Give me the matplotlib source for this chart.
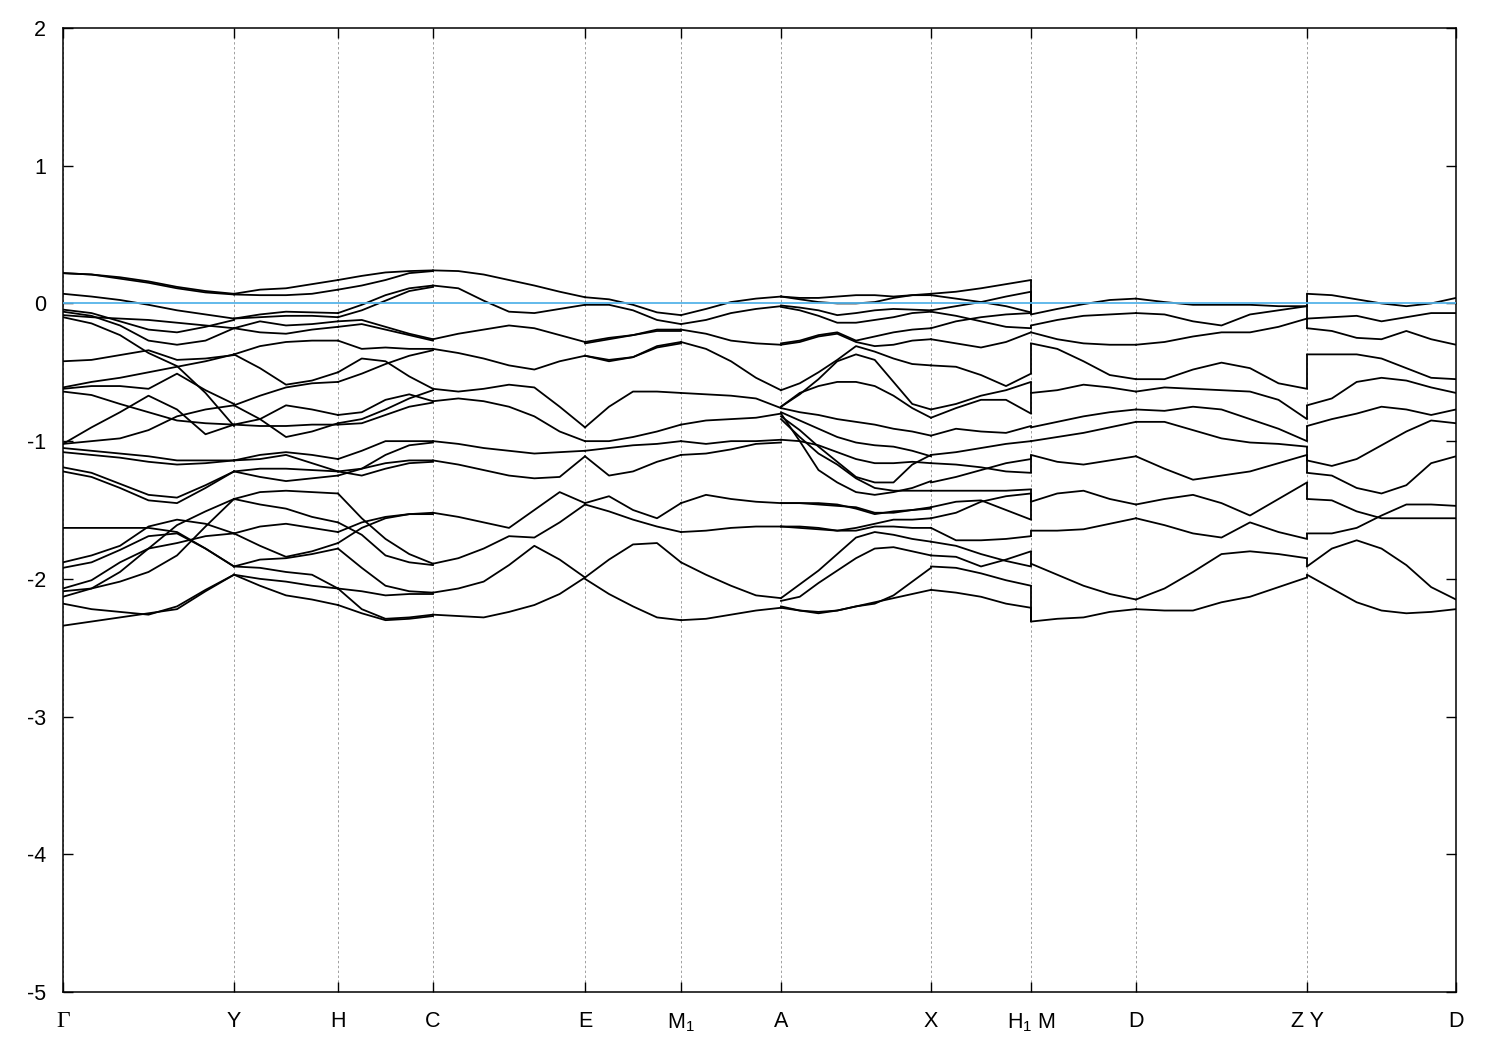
import matplotlib
matplotlib.use('Agg')
import matplotlib.pyplot as plt
import numpy as np

plt.rcParams['font.family'] = ['Liberation Sans', 'DejaVu Sans']
plt.rcParams['mathtext.fontset'] = 'custom'
plt.rcParams['mathtext.rm'] = 'Liberation Sans'
plt.rcParams['mathtext.default'] = 'regular'
plt.rcParams['axes.unicode_minus'] = False

# --- k-path ---
kpoint_labels = ['Γ', 'Y', 'H', 'C', 'E', 'M$_1$', 'A', 'X', 'H$_1$ M', 'D', 'Z Y', 'D']
kpoint_pos = [0.0, 1.71, 2.75, 3.70, 5.22, 6.18, 7.18, 8.68, 9.68, 10.73, 12.44, 13.93]

# --- band energies (eV), each line sampled at equally spaced points of its segment ---
gamma_y = [
    [0.22, 0.21, 0.19, 0.16, 0.12, 0.09, 0.07],
    [0.22, 0.21, 0.18, 0.15, 0.11, 0.08, 0.065],
    [0.07, 0.05, 0.025, -0.01, -0.05, -0.08, -0.11],
    [-0.085, -0.10, -0.11, -0.12, -0.14, -0.16, -0.18],
    [-0.045, -0.07, -0.13, -0.19, -0.21, -0.17, -0.12],
    [-0.06, -0.09, -0.16, -0.27, -0.30, -0.27, -0.18],
    [-0.10, -0.145, -0.23, -0.36, -0.455, -0.65, -0.89],
    [-0.42, -0.41, -0.375, -0.34, -0.41, -0.40, -0.375],
    [-0.61, -0.57, -0.54, -0.50, -0.46, -0.42, -0.37],
    [-0.62, -0.60, -0.60, -0.62, -0.51, -0.63, -0.73],
    [-0.64, -0.665, -0.73, -0.79, -0.85, -0.87, -0.88],
    [-1.02, -0.90, -0.79, -0.67, -0.77, -0.95, -0.88],
    [-1.02, -1.00, -0.98, -0.92, -0.82, -0.77, -0.74],
    [-1.05, -1.07, -1.09, -1.11, -1.14, -1.14, -1.14],
    [-1.08, -1.10, -1.12, -1.15, -1.17, -1.16, -1.14],
    [-1.19, -1.23, -1.31, -1.39, -1.41, -1.32, -1.22],
    [-1.22, -1.26, -1.34, -1.43, -1.45, -1.34, -1.22],
    [-1.63, -1.63, -1.63, -1.63, -1.66, -1.78, -1.91],
    [-1.88, -1.83, -1.76, -1.62, -1.57, -1.60, -1.67],
    [-1.92, -1.88, -1.79, -1.69, -1.67, -1.78, -1.91],
    [-2.07, -2.01, -1.88, -1.78, -1.74, -1.69, -1.67],
    [-2.09, -2.07, -2.02, -1.95, -1.83, -1.62, -1.42],
    [-2.18, -2.22, -2.24, -2.26, -2.20, -2.08, -1.97],
    [-2.13, -2.07, -1.95, -1.78, -1.61, -1.51, -1.42],
    [-2.34, -2.31, -2.28, -2.25, -2.22, -2.09, -1.97],
]

y_h = [
    [0.07, 0.10, 0.11, 0.14, 0.17],
    [0.065, 0.06, 0.06, 0.07, 0.10],
    [-0.11, -0.08, -0.06, -0.065, -0.07],
    [-0.11, -0.10, -0.09, -0.09, -0.10],
    [-0.18, -0.13, -0.16, -0.15, -0.13],
    [-0.18, -0.21, -0.22, -0.19, -0.17],
    [-0.37, -0.31, -0.28, -0.27, -0.27],
    [-0.37, -0.47, -0.59, -0.56, -0.50],
    [-0.74, -0.67, -0.61, -0.58, -0.57],
    [-0.74, -0.84, -0.97, -0.93, -0.87],
    [-0.88, -0.84, -0.74, -0.77, -0.81],
    [-0.88, -0.89, -0.89, -0.88, -0.88],
    [-1.14, -1.10, -1.08, -1.10, -1.13],
    [-1.14, -1.13, -1.10, -1.16, -1.22],
    [-1.22, -1.20, -1.20, -1.21, -1.22],
    [-1.22, -1.26, -1.29, -1.27, -1.25],
    [-1.42, -1.37, -1.36, -1.37, -1.38],
    [-1.42, -1.46, -1.49, -1.55, -1.59],
    [-1.67, -1.62, -1.60, -1.63, -1.66],
    [-1.67, -1.76, -1.84, -1.80, -1.74],
    [-1.91, -1.86, -1.85, -1.82, -1.78],
    [-1.91, -1.92, -1.95, -1.97, -2.07],
    [-1.97, -2.00, -2.02, -2.05, -2.07],
    [-1.97, -2.05, -2.12, -2.15, -2.19],
]

h_c = [
    [0.17, 0.20, 0.225, 0.235, 0.24],
    [0.10, 0.13, 0.17, 0.22, 0.235],
    [-0.07, -0.01, 0.06, 0.11, 0.13],
    [-0.10, -0.05, 0.02, 0.09, 0.12],
    [-0.13, -0.12, -0.17, -0.22, -0.26],
    [-0.17, -0.15, -0.19, -0.23, -0.27],
    [-0.27, -0.33, -0.32, -0.33, -0.33],
    [-0.50, -0.40, -0.42, -0.53, -0.62],
    [-0.57, -0.51, -0.44, -0.38, -0.34],
    [-0.81, -0.79, -0.70, -0.66, -0.71],
    [-0.87, -0.84, -0.77, -0.69, -0.63],
    [-0.88, -0.87, -0.81, -0.75, -0.72],
    [-1.13, -1.07, -1.00, -1.00, -1.00],
    [-1.22, -1.20, -1.16, -1.14, -1.14],
    [-1.22, -1.25, -1.20, -1.16, -1.15],
    [-1.25, -1.20, -1.10, -1.03, -1.01],
    [-1.38, -1.56, -1.71, -1.82, -1.89],
    [-1.59, -1.68, -1.83, -1.88, -1.90],
    [-1.66, -1.59, -1.55, -1.53, -1.52],
    [-1.74, -1.63, -1.56, -1.53, -1.53],
    [-1.78, -1.92, -2.05, -2.09, -2.10],
    [-2.07, -2.09, -2.12, -2.11, -2.11],
    [-2.07, -2.22, -2.29, -2.28, -2.26],
    [-2.19, -2.25, -2.30, -2.29, -2.27],
]

c_e = [
    [0.24, 0.235, 0.21, 0.17, 0.13, 0.085, 0.045],
    [0.13, 0.11, 0.02, -0.06, -0.07, -0.04, -0.01],
    [-0.26, -0.22, -0.19, -0.16, -0.18, -0.23, -0.28],
    [-0.33, -0.36, -0.40, -0.45, -0.48, -0.42, -0.38],
    [-0.62, -0.64, -0.62, -0.59, -0.61, -0.75, -0.90],
    [-0.71, -0.69, -0.71, -0.75, -0.82, -0.93, -1.00],
    [-1.00, -1.02, -1.05, -1.07, -1.09, -1.08, -1.07],
    [-1.14, -1.17, -1.21, -1.25, -1.27, -1.26, -1.11],
    [-1.52, -1.55, -1.59, -1.63, -1.50, -1.37, -1.45],
    [-1.89, -1.85, -1.78, -1.69, -1.70, -1.59, -1.46],
    [-2.10, -2.07, -2.02, -1.90, -1.76, -1.86, -1.99],
    [-2.26, -2.27, -2.28, -2.24, -2.19, -2.11, -1.99],
]

e_m1 = [
    [0.045, 0.03, -0.01, -0.065, -0.085],
    [-0.01, -0.01, -0.05, -0.12, -0.15],
    [-0.28, -0.25, -0.23, -0.19, -0.19],
    [-0.29, -0.26, -0.23, -0.20, -0.20],
    [-0.38, -0.41, -0.39, -0.31, -0.28],
    [-0.38, -0.42, -0.39, -0.32, -0.29],
    [-0.90, -0.75, -0.64, -0.64, -0.65],
    [-1.00, -1.00, -0.97, -0.93, -0.88],
    [-1.07, -1.05, -1.03, -1.02, -1.00],
    [-1.11, -1.25, -1.22, -1.15, -1.10],
    [-1.45, -1.40, -1.50, -1.56, -1.45],
    [-1.46, -1.51, -1.57, -1.62, -1.66],
    [-1.99, -1.86, -1.75, -1.74, -1.88],
    [-2.00, -2.11, -2.20, -2.28, -2.30],
]

m1_a = [
    [-0.085, -0.04, 0.01, 0.035, 0.05],
    [-0.15, -0.12, -0.07, -0.04, -0.02],
    [-0.19, -0.22, -0.27, -0.29, -0.30],
    [-0.28, -0.33, -0.42, -0.54, -0.63],
    [-0.65, -0.66, -0.67, -0.69, -0.76],
    [-0.88, -0.85, -0.84, -0.83, -0.80],
    [-1.00, -1.02, -1.00, -1.00, -0.99],
    [-1.10, -1.09, -1.06, -1.02, -1.01],
    [-1.45, -1.39, -1.42, -1.44, -1.45],
    [-1.66, -1.65, -1.63, -1.62, -1.62],
    [-1.88, -1.97, -2.05, -2.12, -2.14],
    [-2.30, -2.29, -2.26, -2.23, -2.21],
]

a_x = [
    [0.05, 0.04, 0.04, 0.05, 0.06, 0.06, 0.05, 0.06, 0.07],
    [0.05, 0.03, 0.01, 0.00, 0.00, 0.01, 0.04, 0.06, 0.06],
    [-0.015, -0.03, -0.05, -0.085, -0.07, -0.05, -0.04, -0.045, -0.05],
    [-0.025, -0.05, -0.09, -0.14, -0.14, -0.12, -0.10, -0.07, -0.06],
    [-0.29, -0.27, -0.23, -0.21, -0.27, -0.24, -0.21, -0.19, -0.18],
    [-0.30, -0.28, -0.24, -0.22, -0.28, -0.31, -0.30, -0.27, -0.26],
    [-0.63, -0.58, -0.50, -0.41, -0.31, -0.35, -0.40, -0.44, -0.45],
    [-0.75, -0.66, -0.55, -0.42, -0.37, -0.41, -0.57, -0.73, -0.77],
    [-0.75, -0.65, -0.60, -0.57, -0.57, -0.60, -0.67, -0.76, -0.83],
    [-0.76, -0.79, -0.81, -0.84, -0.86, -0.88, -0.91, -0.93, -0.96],
    [-0.79, -0.85, -0.91, -0.97, -1.01, -1.03, -1.04, -1.07, -1.11],
    [-0.99, -1.00, -1.03, -1.08, -1.13, -1.16, -1.16, -1.15, -1.16],
    [-0.80, -1.00, -1.21, -1.30, -1.37, -1.39, -1.37, -1.34, -1.29],
    [-0.82, -0.92, -1.04, -1.15, -1.26, -1.30, -1.30, -1.17, -1.10],
    [-0.84, -0.97, -1.09, -1.17, -1.27, -1.34, -1.36, -1.36, -1.36],
    [-1.45, -1.45, -1.45, -1.46, -1.49, -1.53, -1.51, -1.50, -1.48],
    [-1.45, -1.45, -1.46, -1.47, -1.48, -1.52, -1.52, -1.50, -1.49],
    [-1.62, -1.62, -1.63, -1.65, -1.63, -1.60, -1.57, -1.57, -1.56],
    [-1.62, -1.63, -1.64, -1.65, -1.65, -1.62, -1.62, -1.63, -1.63],
    [-2.14, -2.04, -1.94, -1.82, -1.70, -1.66, -1.68, -1.71, -1.73],
    [-2.16, -2.13, -2.03, -1.94, -1.85, -1.78, -1.77, -1.80, -1.83],
    [-2.20, -2.23, -2.24, -2.23, -2.20, -2.18, -2.12, -2.02, -1.92],
    [-2.21, -2.23, -2.25, -2.23, -2.20, -2.17, -2.14, -2.11, -2.08],
]

x_h1 = [
    [0.07, 0.085, 0.11, 0.14, 0.17],
    [0.06, 0.035, 0.01, 0.05, 0.085],
    [-0.05, -0.02, 0.01, -0.02, -0.065],
    [-0.06, -0.09, -0.13, -0.17, -0.18],
    [-0.18, -0.13, -0.10, -0.08, -0.07],
    [-0.26, -0.29, -0.32, -0.28, -0.21],
    [-0.45, -0.46, -0.52, -0.60, -0.51],
    [-0.77, -0.73, -0.67, -0.63, -0.57],
    [-0.83, -0.76, -0.70, -0.70, -0.80],
    [-0.96, -0.91, -0.93, -0.94, -0.89],
    [-1.10, -1.08, -1.05, -1.02, -1.00],
    [-1.16, -1.17, -1.19, -1.22, -1.23],
    [-1.30, -1.26, -1.21, -1.16, -1.13],
    [-1.36, -1.36, -1.36, -1.36, -1.35],
    [-1.48, -1.44, -1.43, -1.50, -1.57],
    [-1.56, -1.52, -1.44, -1.40, -1.38],
    [-1.63, -1.72, -1.72, -1.71, -1.69],
    [-1.73, -1.76, -1.82, -1.87, -1.91],
    [-1.83, -1.84, -1.91, -1.86, -1.80],
    [-1.91, -1.92, -1.96, -2.01, -2.05],
    [-2.08, -2.10, -2.13, -2.18, -2.21],
]

m_d = [
    [-0.08, -0.04, -0.005, 0.025, 0.035],
    [-0.16, -0.12, -0.09, -0.08, -0.07],
    [-0.21, -0.26, -0.29, -0.30, -0.30],
    [-0.29, -0.33, -0.42, -0.52, -0.55],
    [-0.65, -0.63, -0.59, -0.61, -0.64],
    [-0.90, -0.86, -0.82, -0.79, -0.77],
    [-1.00, -0.97, -0.94, -0.90, -0.86],
    [-1.10, -1.15, -1.17, -1.14, -1.11],
    [-1.44, -1.38, -1.36, -1.42, -1.46],
    [-1.65, -1.65, -1.64, -1.60, -1.56],
    [-1.89, -1.97, -2.05, -2.11, -2.15],
    [-2.31, -2.29, -2.28, -2.24, -2.22],
]
# number of (nearly) degenerate bands behind each M-D line
m_d_bands = [4, 1, 1, 1, 2, 1, 1, 2, 3, 1, 2, 2]

d_z = [
    [0.035, 0.01, -0.01, -0.01, -0.01, -0.02, -0.02],
    [-0.07, -0.08, -0.13, -0.16, -0.08, -0.05, -0.02],
    [-0.30, -0.28, -0.24, -0.21, -0.21, -0.17, -0.11],
    [-0.55, -0.55, -0.48, -0.43, -0.47, -0.58, -0.62],
    [-0.64, -0.61, -0.62, -0.63, -0.64, -0.70, -0.84],
    [-0.77, -0.78, -0.75, -0.77, -0.84, -0.91, -1.00],
    [-0.86, -0.86, -0.92, -0.98, -1.01, -1.02, -1.04],
    [-1.11, -1.20, -1.28, -1.25, -1.22, -1.16, -1.10],
    [-1.46, -1.42, -1.39, -1.45, -1.54, -1.42, -1.30],
    [-1.56, -1.61, -1.67, -1.70, -1.59, -1.66, -1.71],
    [-2.15, -2.07, -1.95, -1.82, -1.80, -1.82, -1.85],
    [-2.22, -2.23, -2.23, -2.17, -2.13, -2.06, -1.99],
]

y_d = [
    [0.07, 0.06, 0.03, 0.00, -0.02, 0.00, 0.04],
    [-0.11, -0.10, -0.09, -0.13, -0.10, -0.07, -0.07],
    [-0.18, -0.20, -0.25, -0.26, -0.20, -0.26, -0.30],
    [-0.37, -0.37, -0.37, -0.40, -0.47, -0.54, -0.55],
    [-0.74, -0.69, -0.57, -0.54, -0.56, -0.61, -0.65],
    [-0.89, -0.84, -0.80, -0.75, -0.77, -0.81, -0.77],
    [-1.14, -1.18, -1.13, -1.03, -0.93, -0.85, -0.87],
    [-1.23, -1.25, -1.34, -1.38, -1.32, -1.16, -1.11],
    [-1.42, -1.43, -1.51, -1.56, -1.56, -1.56, -1.56],
    [-1.67, -1.67, -1.63, -1.54, -1.46, -1.46, -1.47],
    [-1.91, -1.78, -1.72, -1.78, -1.90, -2.06, -2.15],
    [-1.97, -2.07, -2.17, -2.23, -2.25, -2.24, -2.22],
]

segments = [gamma_y, y_h, h_c, c_e, e_m1, m1_a, a_x, x_h1, m_d, d_z, y_d]

fig = plt.figure(figsize=(15, 10.5), dpi=100)
ax = fig.add_axes([63 / 1500, 1 - 992 / 1050, (1456 - 63) / 1500, (992 - 28) / 1050])

lw = 1.3
for i, seg in enumerate(segments):
    for band in seg:
        k = np.linspace(kpoint_pos[i], kpoint_pos[i + 1], len(band))
        ax.plot(k, band, color='black', lw=lw, zorder=2)

# discontinuities of the path: band n on one side joined to band n on the other
def draw_jump(kx, ends, starts):
    ends, starts = np.sort(ends), np.sort(starts)
    ax.vlines(np.full(len(ends), kx), np.minimum(ends, starts), np.maximum(ends, starts),
              color='black', lw=lw, zorder=2)

draw_jump(kpoint_pos[8], [b[-1] for b in x_h1], np.repeat([b[0] for b in m_d], m_d_bands))
draw_jump(kpoint_pos[10], [b[-1] for b in d_z], [b[0] for b in y_d])

# Fermi level
ax.axhline(0, color='#56b4e9', lw=1.3, zorder=3)

ax.set_xlim(kpoint_pos[0], kpoint_pos[-1])
ax.set_ylim(-5, 2)
ax.set_xticks(kpoint_pos)
ax.set_xticklabels(kpoint_labels)
ax.set_yticks(range(-5, 3))
ax.set_yticklabels([str(v) for v in range(-5, 3)])
ax.xaxis.grid(True, color='#a0a0a0', ls=(0, (2.5, 2.5)), lw=0.7)
ax.set_axisbelow(True)

ax.tick_params(direction='in', length=7, width=1, top=True, right=True, labelsize=15.5)
ax.tick_params(axis='x', pad=14)
ax.tick_params(axis='y', pad=12)
gamma_label = ax.get_xticklabels()[0]
gamma_label.set_fontfamily('Liberation Serif')
gamma_label.set_fontsize(17)
for s in ax.spines.values():
    s.set_linewidth(1.1)

fig.savefig('out.png', dpi=100)
